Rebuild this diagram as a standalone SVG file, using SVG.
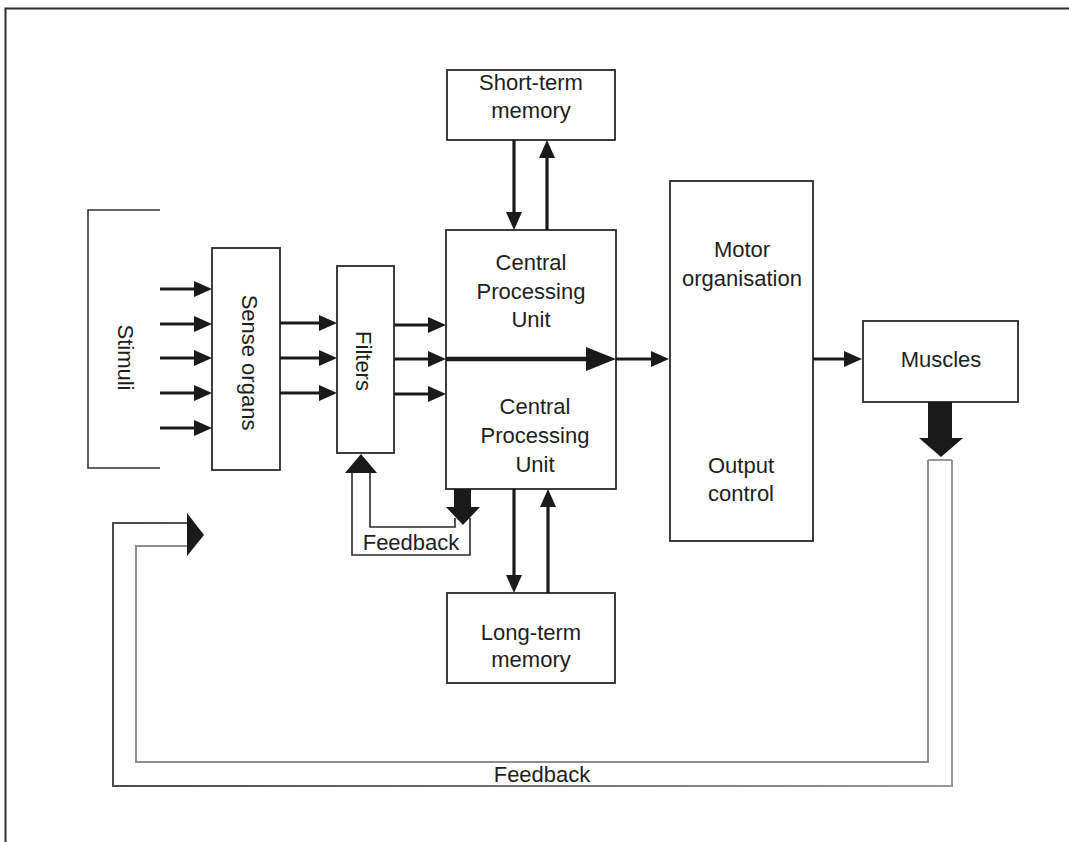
<svg xmlns="http://www.w3.org/2000/svg" width="1069" height="842" viewBox="0 0 1069 842">
  <style>
    .box { fill: #ffffff; stroke: #2a2a2a; stroke-width: 1.8; }
    .lbl { font-family: "Liberation Sans", Arial, sans-serif; font-size: 22px; fill: #1e1e1e; text-anchor: middle; }
    .arr { stroke: #1a1a1a; stroke-width: 3.2; fill: none; marker-end: url(#head); }
    .arrBig { stroke: #1a1a1a; stroke-width: 4.5; fill: none; marker-end: url(#headBig); }
    .solid { fill: #1a1a1a; stroke: none; }
    .loop { fill: none; stroke: #2a2a2a; stroke-width: 1.6; }
  </style>
  <defs>
    <!-- arrowhead tip sits 8px beyond the line end -->
    <marker id="head" markerUnits="userSpaceOnUse" markerWidth="20" markerHeight="18" viewBox="0 -9 20 18" refX="10" refY="0" orient="auto" overflow="visible">
      <path d="M0,-8 L18,0 L0,8 Z" fill="#1a1a1a"/>
    </marker>
    <marker id="headBig" markerUnits="userSpaceOnUse" markerWidth="32" markerHeight="26" viewBox="0 -13 32 26" refX="22" refY="0" orient="auto" overflow="visible">
      <path d="M0,-12 L30,0 L0,12 Z" fill="#1a1a1a"/>
    </marker>
    <linearGradient id="loopShade" gradientUnits="userSpaceOnUse" x1="100" y1="0" x2="960" y2="0">
      <stop offset="0" stop-color="#4a4a4a"/>
      <stop offset="1" stop-color="#9a9a9a"/>
    </linearGradient>
  </defs>

  <rect width="1069" height="842" fill="#ffffff"/>

  <!-- outer frame (top and left edges) -->
  <path d="M5.5,842 V8.5 H1069" fill="none" stroke="#2e2e2e" stroke-width="2"/>

  <!-- stimuli bracket -->
  <g id="stimuli">
    <path d="M160,210 H88 V468 H160" fill="none" stroke="#333" stroke-width="1.6"/>
    <text class="lbl" transform="translate(118,357.5) rotate(90)">Stimuli</text>
  </g>

  <g id="sense-organs">
    <rect class="box" x="212" y="248" width="68" height="222"/>
    <text class="lbl" transform="translate(242,362.5) rotate(90)">Sense organs</text>
  </g>

  <g id="filters">
    <rect class="box" x="337" y="266" width="57" height="187"/>
    <text class="lbl" transform="translate(356,361) rotate(90)">Filters</text>
  </g>

  <g id="short-term-memory">
    <rect class="box" x="447" y="70" width="168" height="70"/>
    <text class="lbl" x="531" y="90">Short-term</text>
    <text class="lbl" x="531" y="118">memory</text>
  </g>

  <g id="cpu">
    <rect class="box" x="446" y="230" width="170" height="259"/>
    <text class="lbl" x="531" y="270">Central</text>
    <text class="lbl" x="531" y="298.5">Processing</text>
    <text class="lbl" x="531" y="327">Unit</text>
    <text class="lbl" x="535" y="414">Central</text>
    <text class="lbl" x="535" y="443">Processing</text>
    <text class="lbl" x="535" y="472">Unit</text>
  </g>

  <g id="long-term-memory">
    <rect class="box" x="447" y="593" width="168" height="90"/>
    <text class="lbl" x="531" y="640">Long-term</text>
    <text class="lbl" x="531" y="667">memory</text>
  </g>

  <g id="motor">
    <rect class="box" x="670" y="181" width="143" height="360"/>
    <text class="lbl" x="742" y="257">Motor</text>
    <text class="lbl" x="742" y="286">organisation</text>
    <text class="lbl" x="741" y="473">Output</text>
    <text class="lbl" x="741" y="501">control</text>
  </g>

  <g id="muscles">
    <rect class="box" x="863" y="321" width="155" height="81"/>
    <text class="lbl" x="941" y="367">Muscles</text>
  </g>

  <g id="connectors">
    <!-- stimuli into sense organs -->
    <line class="arr" x1="160" y1="289" x2="204" y2="289"/>
    <line class="arr" x1="160" y1="324" x2="204" y2="324"/>
    <line class="arr" x1="160" y1="358" x2="204" y2="358"/>
    <line class="arr" x1="160" y1="393" x2="204" y2="393"/>
    <line class="arr" x1="160" y1="428" x2="204" y2="428"/>

    <!-- sense organs to filters -->
    <line class="arr" x1="280" y1="323" x2="329" y2="323"/>
    <line class="arr" x1="280" y1="358" x2="329" y2="358"/>
    <line class="arr" x1="280" y1="393" x2="329" y2="393"/>

    <!-- filters to CPU -->
    <line class="arr" x1="394" y1="325" x2="438" y2="325"/>
    <line class="arr" x1="394" y1="359" x2="438" y2="359"/>
    <line class="arr" x1="394" y1="394" x2="438" y2="394"/>

    <!-- through the CPU and on to motor organisation -->
    <line class="arrBig" x1="446" y1="359" x2="608" y2="359"/>
    <line class="arr" x1="616" y1="359" x2="661" y2="359"/>

    <!-- motor to muscles -->
    <line class="arr" x1="813" y1="359" x2="854" y2="359"/>

    <!-- short-term memory exchange -->
    <line class="arr" x1="514" y1="140" x2="514" y2="222"/>
    <line class="arr" x1="547" y1="230" x2="547" y2="148"/>

    <!-- long-term memory exchange -->
    <line class="arr" x1="514" y1="489" x2="514" y2="585"/>
    <line class="arr" x1="548" y1="593" x2="548" y2="497"/>

    <!-- inner feedback: CPU back to filters -->
    <polygon class="solid" points="454,489 471,489 471,507 480,507 463,525 446,507 454,507"/>
    <path class="loop" d="M470,518 V555 H352 V473"/>
    <path class="loop" d="M455,518 V527 H370 V473"/>
    <polygon class="solid" points="361,454 377,473 345,473"/>
    <text class="lbl" x="411" y="550">Feedback</text>

    <!-- outer feedback: muscles back to stimuli -->
    <polygon class="solid" points="928,402 952,402 952,438 963,438 941,457 919,438 928,438"/>
    <path d="M952,460 V786 H113 V523 H187" fill="none" stroke="url(#loopShade)" stroke-width="2"/>
    <path d="M928,460 V762 H136 V546 H187" fill="none" stroke="#8e8e8e" stroke-width="2"/>
    <path d="M928,460 H952" fill="none" stroke="#9a9a9a" stroke-width="2"/>
    <polygon class="solid" points="187,513 204,535 187,556"/>
    <text class="lbl" x="542" y="782">Feedback</text>
  </g>
</svg>
